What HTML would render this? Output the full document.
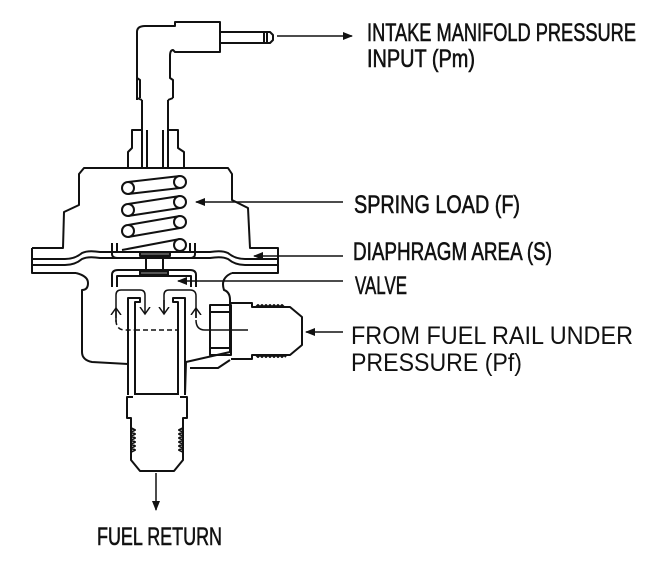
<!DOCTYPE html>
<html><head><meta charset="utf-8"><style>
html,body{margin:0;padding:0;background:#fff;width:667px;height:569px;overflow:hidden}
svg{display:block}
.c{font-family:"Liberation Sans Narrow","Liberation Sans",sans-serif;stroke:#111;stroke-width:0.6}
</style></head><body>
<svg width="667" height="569" viewBox="0 0 667 569" xmlns="http://www.w3.org/2000/svg">
<defs><marker id="ah" markerWidth="10" markerHeight="8" refX="9" refY="4" orient="auto" markerUnits="userSpaceOnUse"><path d="M0,0 L10,4 L0,8 z" fill="#111"/></marker>
<marker id="sa" markerWidth="10" markerHeight="12" refX="7" refY="6" orient="auto" markerUnits="userSpaceOnUse"><path d="M0,1 L7,6 L0,11" fill="none" stroke="#111" stroke-width="1.5"/></marker></defs>
<g fill="none" stroke="#111" stroke-width="2" stroke-linejoin="round">
<!-- elbow -->
<path d="M137,100 L137,32 Q137,26 145,26 L175,26 L175,22 L220,22 L220,52 L175,52 L173,50 Q170,50 170,56 L170,78 L173,80 L173,98"/>
<path d="M137,78 L140,80 L140,98 M137,98 L142,100 M173,98 L168,100"/>
<rect x="220" y="32" width="44" height="11"/>
<path d="M264,32 L270,32 L273,35 L273,40 L270,43 L264,43 M267,32 L267,43"/>
<!-- tubes -->
<path d="M142,100 L142,168 M147,130 L147,168 M168,100 L168,168 M163,130 L163,168"/>
<path d="M142,130 L132,130 L132,148 L128,152 L128,168 M168,130 L178,130 L178,148 L184,152 L184,168"/>
<!-- upper body -->
<path d="M32,248 L63,248 L64,212 L79,205 L79,174 L84,168 L228,168 L232,174 L232,200 L248,208 L250,248 L278,248 L278,273 L232,273"/>
<path d="M32,248 L32,273 L76,273"/>
<!-- diaphragm -->
<path d="M32,259 L65,259 Q75,259 82,253 Q88,250 100,252 L210,252 Q222,250 228,253 Q235,259 245,259 L278,259"/>
<path d="M32,265 L65,265 Q75,265 82,259 Q88,256 100,258 L210,258 Q222,256 228,259 Q235,265 245,265 L278,265"/>
<!-- cups -->
<path d="M112,243 L112,254 Q112,258 118,258 L190,258 Q195,258 195,254 L195,243"/>
<path d="M117,243 L117,252 L190,252 L190,243"/>
<path d="M112,287 L112,275 Q112,270 118,270 L190,270 Q196,270 196,275 L196,287"/>
<path d="M117,287 L117,276 L191,276 L191,287"/>
<rect x="146" y="255" width="17" height="18"/>
<rect x="140" y="252" width="30" height="4" fill="#555"/>
<rect x="140" y="271" width="28" height="4" fill="#555"/>
<!-- lower body -->
<path d="M76,273 Q88,276 88,283 Q88,290 82,290 L82,352 Q82,360 92,362 L128,364 L128,395"/>
<path d="M232,273 Q220,278 224,290 Q230,292 230,300 L230,352 L186,362 L185,395"/>
<!-- inner tubes -->
<path d="M128,395 L128,298 L140,298 L140,302 L135,302 L135,395"/>
<path d="M185,395 L185,298 L173,298 L173,302 L178,302 L178,395"/>
<path d="M135,394 L178,394"/>
<!-- return fitting -->
<path d="M133,397 L127,397 L127,418 L131,418 L131,460 L140,471 L174,471 L183,460 L183,418 L187,418 L187,397 L180,397"/>
<path d="M131,428 l4,2 -4,2 4,2 -4,2 4,2 -4,2 4,2 -4,2 4,2 -4,2 4,2 -4,2 M183,428 l-4,2 4,2 -4,2 4,2 -4,2 4,2 -4,2 4,2 -4,2 4,2 -4,2 4,2"/>
<!-- side fitting -->
<rect x="210" y="305" width="21" height="50"/>
<path d="M210,312 L231,312 M210,348 L231,348"/>
<path d="M231,303 L252,303 L252,307 L290,307 L302,317 L302,345 L290,355 L252,355 L252,359 L231,359"/>
<path d="M256,307 l2,-2 2,2 2,-2 2,2 2,-2 2,2 2,-2 2,2 2,-2 2,2 2,-2 2,2 2,-2 2,2 M256,355 l2,2 2,-2 2,2 2,-2 2,2 2,-2 2,2 2,-2 2,2 2,-2 2,2 2,-2 2,2 2,-2 2,2"/>
<path d="M230,360 L218,368 L190,368"/>
</g>
<!-- spring -->
<g fill="#fff" stroke="#111" stroke-width="2">
<path d="M128,182 L180,176 M128,194 L180,188 M128,204 L180,196 M128,216 L180,208 M128,225 L180,216 M128,237 L180,228 M122,250 L180,239"/>
<circle cx="128" cy="188" r="6"/><circle cx="180" cy="182" r="6"/>
<circle cx="128" cy="210" r="6"/><circle cx="180" cy="202" r="6"/>
<circle cx="128" cy="231" r="6"/><circle cx="180" cy="222" r="6"/>
<circle cx="180" cy="245" r="6"/>
</g>
<!-- flow arrows -->
<g fill="none" stroke="#111" stroke-width="1.5">
<path d="M116,322 L116,295 Q116,290 121,290 L140,290 Q145,290 145,295 L145,314" marker-end="url(#sa)"/>
<path d="M116,318 L116,308" marker-end="url(#sa)"/>
<path d="M164,314 L164,295 Q164,290 169,290 L190,290 Q196,290 196,296 L196,318"/>
<path d="M164,300 L164,314" marker-end="url(#sa)"/>
<path d="M196,318 L196,308" marker-end="url(#sa)"/>
<path d="M116,320 Q116,330 125,330 L135,330 M135,330 L178,330" stroke-dasharray="5,3"/>
<path d="M196,320 Q196,330 205,330 L248,330"/>
</g>
<!-- leader lines -->
<g stroke="#111" stroke-width="1.5" fill="none">
<line x1="277" y1="36" x2="352" y2="36" marker-end="url(#ah)"/>
<line x1="343" y1="202" x2="196" y2="202" marker-end="url(#ah)"/>
<line x1="343" y1="256" x2="254" y2="256" marker-end="url(#ah)"/>
<line x1="343" y1="281" x2="178" y2="281" marker-end="url(#ah)"/>
<line x1="343" y1="332" x2="306" y2="332" marker-end="url(#ah)"/>
<line x1="156" y1="473" x2="156" y2="510" marker-end="url(#ah)"/>
</g>
<g fill="#111">
<text class="c" x="367" y="41" font-size="25" textLength="269" lengthAdjust="spacingAndGlyphs">INTAKE MANIFOLD PRESSURE</text>
<text class="c" x="367" y="67" font-size="25" textLength="108" lengthAdjust="spacingAndGlyphs">INPUT (Pm)</text>
<text class="c" x="354" y="213" font-size="25" textLength="166" lengthAdjust="spacingAndGlyphs">SPRING LOAD (F)</text>
<text class="c" x="353" y="260" font-size="25" textLength="199" lengthAdjust="spacingAndGlyphs">DIAPHRAGM AREA (S)</text>
<text class="c" x="355" y="294" font-size="25" textLength="52" lengthAdjust="spacingAndGlyphs">VALVE</text>
<text x="351" y="344" font-family="Liberation Sans, sans-serif" font-size="25" textLength="282" lengthAdjust="spacingAndGlyphs">FROM FUEL RAIL UNDER</text>
<text x="351" y="371" font-family="Liberation Sans, sans-serif" font-size="25" textLength="171" lengthAdjust="spacingAndGlyphs">PRESSURE (Pf)</text>
<text class="c" x="97" y="545" font-size="25" textLength="125" lengthAdjust="spacingAndGlyphs">FUEL RETURN</text>
</g>
</svg>
</body></html>
